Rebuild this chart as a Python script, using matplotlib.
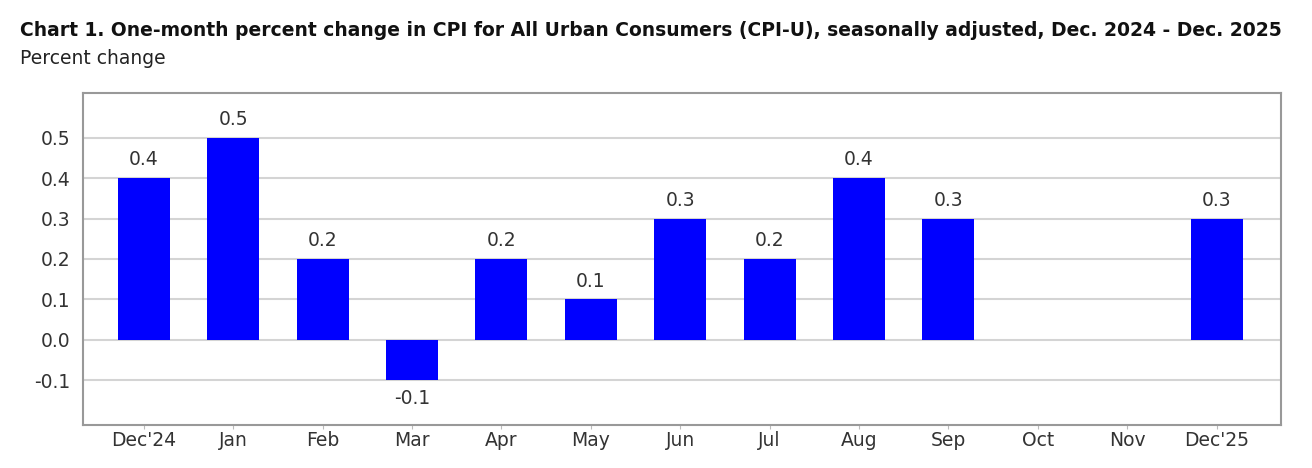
import matplotlib
matplotlib.use("Agg")
import matplotlib.pyplot as plt

months = ["Dec'24", "Jan", "Feb", "Mar", "Apr", "May", "Jun", "Jul", "Aug", "Sep", "Oct", "Nov", "Dec'25"]
values = [0.4, 0.5, 0.2, -0.1, 0.2, 0.1, 0.3, 0.2, 0.4, 0.3, None, None, 0.3]
yticks = [-0.1, 0.0, 0.1, 0.2, 0.3, 0.4, 0.5]
title = "Chart 1. One-month percent change in CPI for All Urban Consumers (CPI-U), seasonally adjusted, Dec. 2024 - Dec. 2025"
subtitle = "Percent change"

W, H = 1312, 468
fig = plt.figure(figsize=(W / 100, H / 100), dpi=100)
ax = fig.add_axes([83 / W, 1 - 425 / H, (1281 - 83) / W, (425 - 93) / H])

xs = [i for i, v in enumerate(values) if v is not None]
vs = [v for v in values if v is not None]
ax.bar(xs, vs, width=0.58, color="#0000ff", zorder=3)

for x, v in zip(xs, vs):
    off = 0.022 if v >= 0 else -0.022
    ax.text(x, v + off, f"{v:.1f}", ha="center", va="bottom" if v >= 0 else "top",
            fontsize=13.5, color="#333333", family="DejaVu Sans")

ax.set_xlim(-0.68, 12.72)
ax.set_ylim(-0.21, 0.61)
ax.set_yticks(yticks)
ax.set_yticklabels([f"{t:.1f}" for t in yticks])
ax.set_xticks(range(len(months)))
ax.set_xticklabels(months)
ax.tick_params(axis="y", length=0, labelsize=13.5, labelcolor="#333333", pad=9)
ax.tick_params(axis="x", length=3, color="#bbbbbb", labelsize=13.5, labelcolor="#333333", pad=1)
ax.grid(axis="y", color="#d4d4d4", linewidth=1.5, zorder=0)
for s in ax.spines.values():
    s.set_color("#999999")
    s.set_linewidth(1.5)

fig.text(20 / W, 1 - 31 / H, title, fontsize=13.5, fontweight="bold", color="#111111",
         va="center", ha="left", family="DejaVu Sans")
fig.text(20 / W, 1 - 58 / H, subtitle, fontsize=13.5, color="#222222",
         va="center", ha="left", family="DejaVu Sans")

fig.savefig("out.png", dpi=100, facecolor="white")
